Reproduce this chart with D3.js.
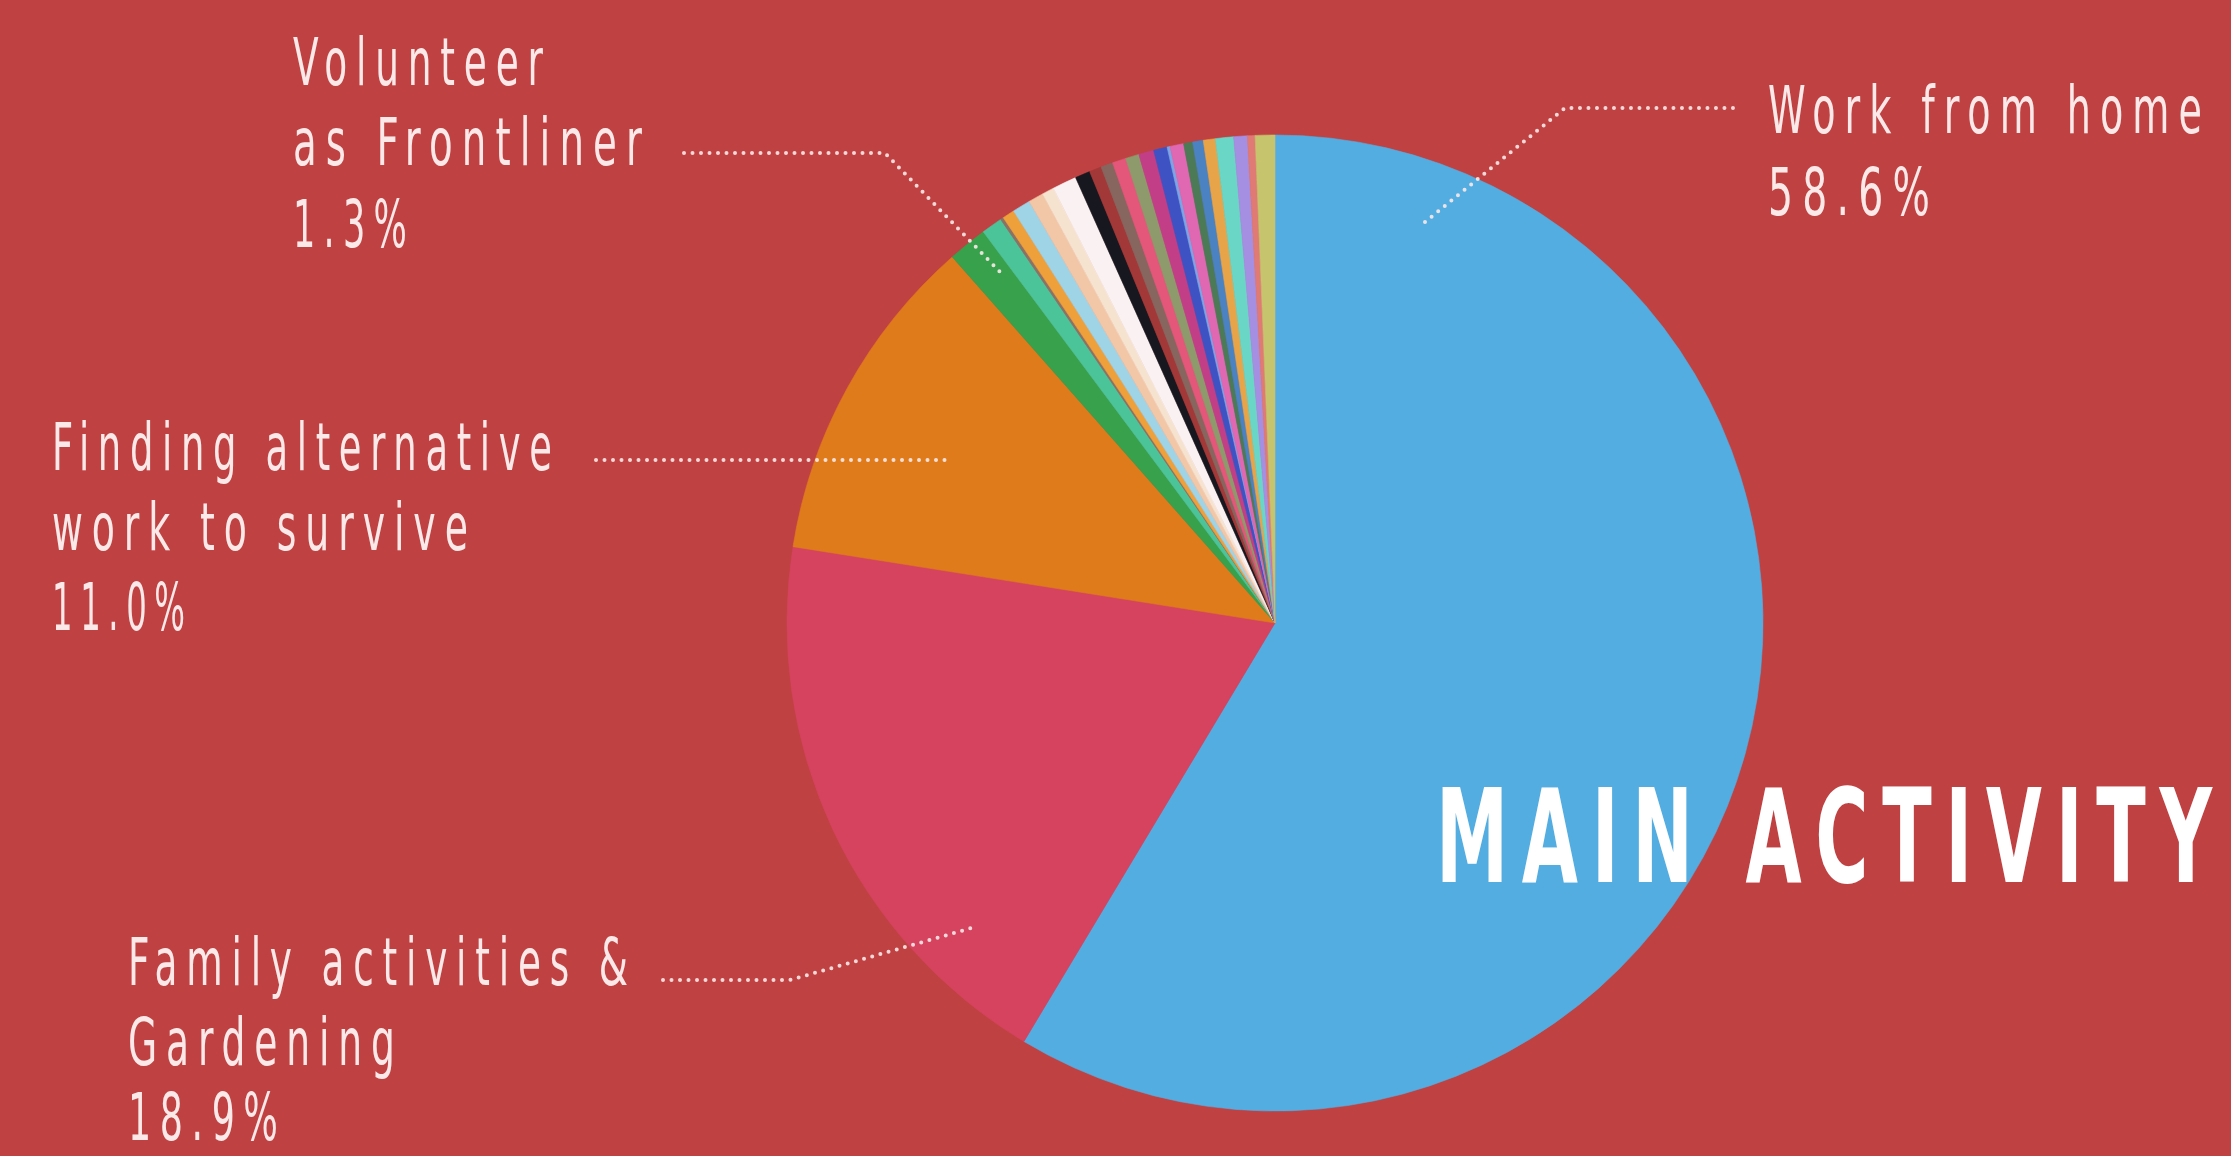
<!DOCTYPE html>
<html>
<head>
<meta charset="utf-8">
<script src="https://cdn.jsdelivr.net/npm/d3@7"></script>
<style>
  html, body { margin: 0; padding: 0; background: #c04142; overflow: hidden; }
  svg { display: block; }
  .lbl { font-family: "DejaVu Sans Condensed", "Liberation Sans Narrow", sans-serif; fill: #fbe9e9; }
  .title { font-family: "DejaVu Sans Condensed", "Liberation Sans Narrow", sans-serif; font-weight: bold; fill: #ffffff; }
</style>
</head>
<body>
<svg width="2231" height="1156"></svg>
<script>
// slice data, clockwise from 12 o'clock
var activities = [
  "Work from home", "Family activities & Gardening", "Finding alternative work to survive",
  "Volunteer as Frontliner",
  "Other 1", "Other 2", "Other 3", "Other 4", "Other 5", "Other 6", "Other 7", "Other 8",
  "Other 9", "Other 10", "Other 11", "Other 12", "Other 13", "Other 14", "Other 15", "Other 16",
  "Other 17", "Other 18", "Other 19", "Other 20", "Other 21", "Other 22", "Other 23"
];
var shares = [
  58.6, 18.9, 11.0,
  1.3,
  0.7, 0.1, 0.4, 0.6, 0.5, 0.4, 0.8, 0.5,
  0.4, 0.4, 0.45, 0.45, 0.5, 0.45, 0.1, 0.45,
  0.3, 0.35, 0.4, 0.6, 0.45, 0.25, 0.65
];
var colours = [
  "#54ade1", "#d5435f", "#e07b1c",
  "#37a14b",
  "#4cc49a", "#8a7266", "#eea03a", "#9fd3e6", "#f2c7a8", "#f6e3cf", "#faf2f2", "#17171f",
  "#a33838", "#86665e", "#e4577a", "#8f9a6c", "#c23e86", "#3e52c4", "#7aa6e8", "#e067b2",
  "#4c7a56", "#4a82c2", "#e8a448", "#69d6c6", "#a58fe2", "#e07a74", "#c7c46e"
];

// labelled slices
var labelLines = [
  ["Work from home", "58.6%"],
  ["Family activities &", "Gardening", "18.9%"],
  ["Finding alternative", "work to survive", "11.0%"],
  ["Volunteer", "as Frontliner", "1.3%"]
];
var titleText = "MAIN ACTIVITY";

// layout (pixels)
var cx = 1275, cy = 623, radius = 488;
var labelLayout = [
  { x: 1768, y: [133, 215], w: [434, 162] },
  { x: 128, y: [985, 1065, 1140], w: [500, 267, 150] },
  { x: 52, y: [470, 550, 630], w: [500, 416, 133] },
  { x: 293, y: [85, 165, 247], w: [250, 349, 114] }
];
var leaders = [
  [[1425, 222], [1565, 108], [1740, 108]],
  [[663, 980], [790, 980], [975, 927]],
  [[596, 460], [953, 460]],
  [[684, 153], [885, 153], [1003, 275]]
];

var svg = d3.select("svg");

var pie = d3.pie()
  .sort(null)
  .value(function(d) { return d; });

var arc = d3.arc()
  .innerRadius(0)
  .outerRadius(radius);

var g = svg.append("g")
  .attr("transform", "translate(" + cx + "," + cy + ")");

g.selectAll("path")
  .data(pie(shares))
  .enter().append("path")
  .attr("d", arc)
  .attr("fill", function(d, i) { return colours[i]; })
  .attr("stroke", function(d, i) { return colours[i]; })
  .attr("stroke-width", 0.6);

// squeeze a text horizontally so it spans w pixels from x
function fitText(sel, x, y, w, spacing) {
  sel.attr("letter-spacing", spacing);
  var nat = sel.node().getComputedTextLength() - spacing;
  sel.attr("transform", "translate(" + x + "," + y + ") scale(" + (w / nat) + ",1)");
}

// title over the pie
var title = svg.append("text")
  .attr("class", "title")
  .attr("font-size", 130)
  .text(titleText);
fitText(title, 1436, 882, 776, 22);

// dotted leader lines
var line = d3.line();
svg.selectAll("path.leader")
  .data(leaders)
  .enter().append("path")
  .attr("class", "leader")
  .attr("d", line)
  .attr("fill", "none")
  .attr("stroke", "#fbeaea")
  .attr("stroke-opacity", 0.9)
  .attr("stroke-width", 4)
  .attr("stroke-linecap", "round")
  .attr("stroke-dasharray", "0 8.5");

// labels
labelLines.forEach(function(lines, i) {
  var lay = labelLayout[i];
  lines.forEach(function(t, j) {
    var txt = svg.append("text")
      .attr("class", "lbl")
      .attr("font-size", 66)
      .text(t);
    fitText(txt, lay.x, lay.y[j], lay.w[j], 14);
  });
});
</script>
</body>
</html>
